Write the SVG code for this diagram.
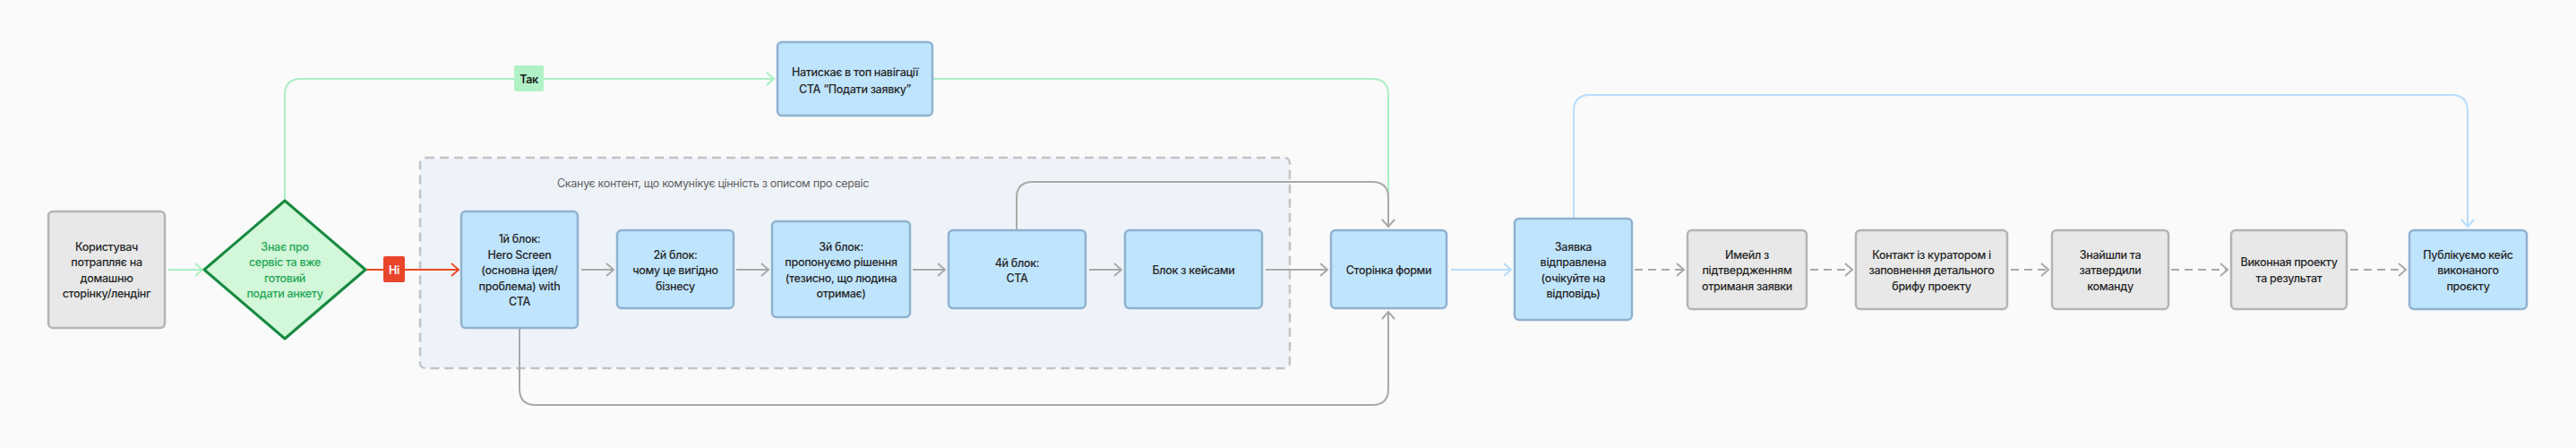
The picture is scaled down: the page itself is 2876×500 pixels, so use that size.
<svg xmlns="http://www.w3.org/2000/svg" width="2876" height="500" viewBox="0 0 2876 500">
<defs>
<style>
text{font-family:Inter,"Noto Sans",sans-serif;font-size:12.5px;font-weight:500;letter-spacing:-0.3px;fill:#262626;text-anchor:middle;dominant-baseline:central}
.gray{fill:#e8e8e8;stroke:#b4b4b4;stroke-width:2.5}
.blue{fill:#bfe4fd;stroke:#8fb2cf;stroke-width:2.5}
.c{fill:none;stroke-width:2}
.cg{stroke:#a9a9a9}
.cgr{stroke:#a9efc2}
.cb{stroke:#b6dcfb}
.cr{stroke:#ee4a27}
.dash{stroke-dasharray:9 6}
.grp{fill:#eef3f9;stroke:#c1c3c6;stroke-width:2.5;stroke-dasharray:10 6}
.green-t{fill:#1fa653}
.lbl{fill:#5f5f5f;font-weight:400}
</style>
<marker id="ag" viewBox="0 0 12 16" refX="10" refY="8" markerWidth="12" markerHeight="16" markerUnits="userSpaceOnUse" orient="auto"><path d="M2,1 L10,8 L2,15" fill="none" stroke="#a9a9a9" stroke-width="2"/></marker>
<marker id="agr" viewBox="0 0 12 16" refX="10" refY="8" markerWidth="12" markerHeight="16" markerUnits="userSpaceOnUse" orient="auto"><path d="M2,1 L10,8 L2,15" fill="none" stroke="#a9efc2" stroke-width="2"/></marker>
<marker id="ab" viewBox="0 0 12 16" refX="10" refY="8" markerWidth="12" markerHeight="16" markerUnits="userSpaceOnUse" orient="auto"><path d="M2,1 L10,8 L2,15" fill="none" stroke="#b6dcfb" stroke-width="2"/></marker>
<marker id="ar" viewBox="0 0 12 16" refX="10" refY="8" markerWidth="12" markerHeight="16" markerUnits="userSpaceOnUse" orient="auto"><path d="M2,1 L10,8 L2,15" fill="none" stroke="#ee4a27" stroke-width="2"/></marker>
</defs>
<rect width="2876" height="500" fill="#fafafa"/>

<g id="group-scan">
<rect class="grp" x="469" y="176" width="971" height="235" rx="6"/>
<text class="lbl" x="796" y="204">Сканує контент, що комунікує цінність з описом про сервіс</text>
</g>

<g id="connectors">
<path class="c cgr" d="M188,301 H226" marker-end="url(#agr)"/>
<path class="c cgr" d="M318,224 V106 Q318,88 336,88 H864" marker-end="url(#agr)"/>
<path class="c cgr" d="M1041,88 H1532 Q1550,88 1550,106 V240"/>
<path class="c cr" d="M408,301 H512" marker-end="url(#ar)"/>
<path class="c cg" d="M649,301 H685" marker-end="url(#ag)"/>
<path class="c cg" d="M822,301 H858" marker-end="url(#ag)"/>
<path class="c cg" d="M1019,301 H1055" marker-end="url(#ag)"/>
<path class="c cg" d="M1216,301 H1252" marker-end="url(#ag)"/>
<path class="c cg" d="M1413,301 H1482" marker-end="url(#ag)"/>
<path class="c cg" d="M1135,257 V221 Q1135,203 1153,203 H1532 Q1550,203 1550,221 V253" marker-end="url(#ag)"/>
<path class="c cg" d="M580,366 V434 Q580,452 598,452 H1532 Q1550,452 1550,434 V348" marker-end="url(#ag)"/>
<path class="c cb" d="M1620,301 H1687" marker-end="url(#ab)"/>
<path class="c cb" d="M1757,244 V124 Q1757,106 1775,106 H2737 Q2755,106 2755,124 V253" marker-end="url(#ab)"/>
<path class="c cg dash" d="M1825,301 H1880" marker-end="url(#ag)"/>
<path class="c cg dash" d="M2021,301 H2068" marker-end="url(#ag)"/>
<path class="c cg dash" d="M2245,301 H2287" marker-end="url(#ag)"/>
<path class="c cg dash" d="M2424,301 H2487" marker-end="url(#ag)"/>
<path class="c cg dash" d="M2624,301 H2686" marker-end="url(#ag)"/>
<g id="label-yes">
<rect x="574" y="73" width="33" height="29" rx="2" fill="#b0f2c6"/>
<text x="590.5" y="88" style="font-weight:600;fill:#1a1a1a">Так</text>
</g>
<g id="label-no">
<rect x="428" y="286" width="24" height="29" rx="2" fill="#e8452a"/>
<text x="440" y="301" style="font-weight:600;fill:#ffffff">Ні</text>
</g>
</g>

<g id="n-user">
<rect class="gray" x="54" y="236" width="130" height="130" rx="5"/>
<text x="119" y="275">Користувач</text>
<text x="119" y="292.5">потрапляє на</text>
<text x="119" y="310">домашню</text>
<text x="119" y="327.5">сторінку/лендінг</text>
</g>

<g id="n-decision">
<path d="M318,224 L408,301 L318,378 L228,301 Z" fill="#d2f7d9" stroke="#178a40" stroke-width="3" stroke-linejoin="round"/>
<text class="green-t" x="318" y="275">Знає про</text>
<text class="green-t" x="318" y="292.5">сервіс та вже</text>
<text class="green-t" x="318" y="310">готовий</text>
<text class="green-t" x="318" y="327.5">подати анкету</text>
</g>

<g id="n-nav">
<rect class="blue" x="868" y="47" width="173" height="82" rx="5"/>
<text x="954.5" y="80">Натискає в топ навігації</text>
<text x="954.5" y="99">CTA “Подати заявку”</text>
</g>

<g id="n-b1">
<rect class="blue" x="515" y="236" width="130" height="130" rx="5"/>
<text x="580" y="266">1й блок:</text>
<text x="580" y="284">Hero Screen</text>
<text x="580" y="301.5">(основна ідея/</text>
<text x="580" y="319">проблема) with</text>
<text x="580" y="336.5">CTA</text>
</g>

<g id="n-b2">
<rect class="blue" x="689" y="257" width="130" height="87" rx="5"/>
<text x="754" y="284">2й блок:</text>
<text x="754" y="301.5">чому це вигідно</text>
<text x="754" y="319">бізнесу</text>
</g>

<g id="n-b3">
<rect class="blue" x="862" y="247" width="154" height="107" rx="5"/>
<text x="939" y="275">3й блок:</text>
<text x="939" y="292.5">пропонуємо рішення</text>
<text x="939" y="310">(тезисно, що людина</text>
<text x="939" y="327.5">отримає)</text>
</g>

<g id="n-b4">
<rect class="blue" x="1059" y="257" width="153" height="87" rx="5"/>
<text x="1135.5" y="293">4й блок:</text>
<text x="1135.5" y="310">CTA</text>
</g>

<g id="n-cases">
<rect class="blue" x="1256" y="257" width="153" height="87" rx="5"/>
<text x="1332.5" y="301.5">Блок з кейсами</text>
</g>

<g id="n-form">
<rect class="blue" x="1486" y="257" width="129" height="87" rx="5"/>
<text x="1550.5" y="301.5">Сторінка форми</text>
</g>

<g id="n-sent">
<rect class="blue" x="1691" y="244" width="131" height="113" rx="5"/>
<text x="1756.5" y="275">Заявка</text>
<text x="1756.5" y="292.5">відправлена</text>
<text x="1756.5" y="310">(очікуйте на</text>
<text x="1756.5" y="327.5">відповідь)</text>
</g>

<g id="n-email">
<rect class="gray" x="1884" y="257" width="133" height="88" rx="5"/>
<text x="1950.5" y="284">Имейл з</text>
<text x="1950.5" y="301.5">підтвердженням</text>
<text x="1950.5" y="319">отриманя заявки</text>
</g>

<g id="n-contact">
<rect class="gray" x="2072" y="257" width="169" height="88" rx="5"/>
<text x="2156.5" y="284">Контакт із куратором і</text>
<text x="2156.5" y="301.5">заповнення детального</text>
<text x="2156.5" y="319">брифу проекту</text>
</g>

<g id="n-team">
<rect class="gray" x="2291" y="257" width="130" height="88" rx="5"/>
<text x="2356" y="284">Знайшли та</text>
<text x="2356" y="301.5">затвердили</text>
<text x="2356" y="319">команду</text>
</g>

<g id="n-done">
<rect class="gray" x="2491" y="257" width="129" height="88" rx="5"/>
<text x="2555.5" y="292.5">Виконная проекту</text>
<text x="2555.5" y="310">та результат</text>
</g>

<g id="n-publish">
<rect class="blue" x="2690" y="257" width="131" height="88" rx="5"/>
<text x="2755.5" y="284">Публікуємо кейс</text>
<text x="2755.5" y="301.5">виконаного</text>
<text x="2755.5" y="319">проєкту</text>
</g>
</svg>
